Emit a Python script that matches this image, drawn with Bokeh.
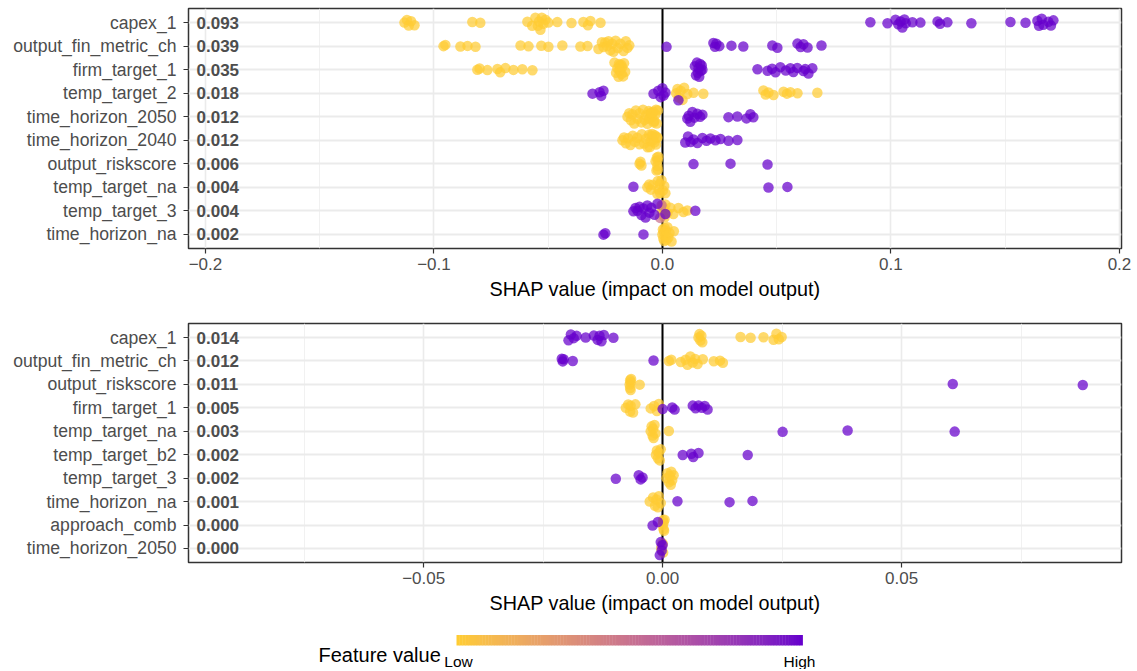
from bokeh.plotting import figure
from bokeh.models import Range1d, FixedTicker
from bokeh.layouts import column
from bokeh.core.properties import value
from bokeh.embed import file_html
from bokeh.resources import INLINE

# ---------------- data ----------------
TOP_FEATURES = ["capex_1", "output_fin_metric_ch", "firm_target_1", "temp_target_2",
                "time_horizon_2050", "time_horizon_2040", "output_riskscore",
                "temp_target_na", "temp_target_3", "time_horizon_na"]
TOP_MEAN = ["0.093", "0.039", "0.035", "0.018", "0.012", "0.012", "0.006", "0.004", "0.004", "0.002"]

BOT_FEATURES = ["capex_1", "output_fin_metric_ch", "output_riskscore", "firm_target_1",
                "temp_target_na", "temp_target_b2", "temp_target_3", "time_horizon_na",
                "approach_comb", "time_horizon_2050"]
BOT_MEAN = ["0.014", "0.012", "0.011", "0.005", "0.003", "0.002", "0.002", "0.001", "0.000", "0.000"]

# SHAP values, split by feature value: LO = low (yellow), HI = high (purple), MID = intermediate
T_CAPEX_LO = [-0.1129, -0.1118, -0.1110, -0.1100, -0.1085, -0.0832, -0.0797, -0.0591, -0.0570,
              -0.0556, -0.0545, -0.0540, -0.0534, -0.0528, -0.0521, -0.0512, -0.0499, -0.0460,
              -0.0398, -0.0346, -0.0326, -0.0315, -0.0271]
T_CAPEX_HI = [0.0910, 0.0985, 0.1020, 0.1032, 0.1042, 0.1050, 0.1059, 0.1065, 0.1094, 0.1129,
              0.1204, 0.1215, 0.1247, 0.1352, 0.1523, 0.1589, 0.1641, 0.1648, 0.1660, 0.1667,
              0.1689, 0.1700, 0.1711]
T_FIN_LO = [-0.0958, -0.0950, -0.0884, -0.0853, -0.0818, -0.0621, -0.0586, -0.0530, -0.0499,
            -0.0438, -0.0359, -0.0328, -0.0280, -0.0265, -0.0258, -0.0250, -0.0242, -0.0236,
            -0.0228, -0.0220, -0.0214, -0.0205, -0.0195, -0.0184, -0.0170, -0.0160, -0.0153, -0.0145]
T_FIN_HI = [0.0018, 0.0223, 0.0230, 0.0236, 0.0249, 0.0302, 0.0354, 0.0481, 0.0503, 0.0591,
            0.0605, 0.0617, 0.0635, 0.0696]
T_FIRM_LO = [-0.0810, -0.0800, -0.0766, -0.0722, -0.0710, -0.0687, -0.0652, -0.0613, -0.0569,
             -0.0210, -0.0203, -0.0197, -0.0192, -0.0190, -0.0188, -0.0186, -0.0184, -0.0180,
             -0.0178, -0.0176, -0.0172, -0.0168, -0.0163]
T_FIRM_HI = [0.0142, 0.0147, 0.0151, 0.0155, 0.0158, 0.0161, 0.0165, 0.0168, 0.0172, 0.0175,
             0.0416, 0.0460, 0.0480, 0.0495, 0.0516, 0.0540, 0.0560, 0.0573, 0.0590, 0.0617,
             0.0625, 0.0639, 0.0656]
T_TT2_LO = [0.0060, 0.0066, 0.0072, 0.0080, 0.0088, 0.0095, 0.0109, 0.0136, 0.0179, 0.0442,
            0.0452, 0.0464, 0.0486, 0.0530, 0.0545, 0.0560, 0.0591, 0.0678]
T_TT2_HI = [-0.0306, -0.0275, -0.0268, -0.0258, -0.0039, -0.0018, -0.0008, 0.0000, 0.0005,
            0.0013, 0.0070]
T_TH50_LO = [-0.0153, -0.0145, -0.0138, -0.0131, -0.0123, -0.0116, -0.0109, -0.0100, -0.0092,
             -0.0085, -0.0078, -0.0072, -0.0066, -0.0060, -0.0055, -0.0050, -0.0045, -0.0040,
             -0.0035, -0.0030, -0.0025, -0.0020, -0.0058, -0.0048, -0.0038, -0.0028]
T_TH50_HI = [0.0109, 0.0115, 0.0122, 0.0131, 0.0140, 0.0153, 0.0165, 0.0175, 0.0289, 0.0328,
             0.0368, 0.0385, 0.0398]
T_TH40_LO = [-0.0175, -0.0168, -0.0160, -0.0150, -0.0140, -0.0130, -0.0120, -0.0110, -0.0100,
             -0.0090, -0.0080, -0.0072, -0.0065, -0.0058, -0.0052, -0.0046, -0.0040, -0.0034,
             -0.0028, -0.0022, -0.0055, -0.0045, -0.0035, -0.0025]
T_TH40_HI = [0.0100, 0.0112, 0.0123, 0.0136, 0.0153, 0.0175, 0.0193, 0.0210, 0.0232, 0.0254,
             0.0289, 0.0328]
T_RISK_LO = [-0.0100, -0.0096, -0.0092, -0.0030, -0.0026, -0.0024, -0.0022, -0.0021, -0.0020,
             -0.0018]
T_RISK_HI = [0.0136, 0.0298, 0.0460]
T_TTNA_LO = [-0.0066, -0.0058, -0.0050, -0.0042, -0.0022, -0.0020, -0.0016, -0.0012, -0.0010,
             -0.0004, 0.0002, 0.0008, 0.0013]
T_TTNA_HI = [-0.0127, 0.0464, 0.0547]
T_TT3_LO = [-0.0002, 0.0000, 0.0004, 0.0006, 0.0009, 0.0013, 0.0022, 0.0035, 0.0048, 0.0070,
            0.0092, 0.0109]
T_TT3_MID = [-0.0010, -0.0004]
T_TT3_HI = [-0.0127, -0.0118, -0.0109, -0.0100, -0.0092, -0.0083, -0.0074, -0.0066, -0.0057,
            -0.0048, -0.0035, -0.0022, 0.0013, 0.0144]
T_THNA_LO = [0.0000, 0.0002, 0.0004, 0.0006, 0.0008, 0.0010, 0.0013, 0.0015, 0.0018, 0.0022,
             0.0026, 0.0031, 0.0040, 0.0050]
T_THNA_HI = [-0.0258, -0.0250, -0.0083]

B_CAPEX_LO = [0.0075, 0.0077, 0.0079, 0.0081, 0.0083, 0.0163, 0.0184, 0.0211, 0.0232, 0.0238,
              0.0243, 0.0249]
B_CAPEX_HI = [-0.0197, -0.0192, -0.0186, -0.0180, -0.0161, -0.0144, -0.0136, -0.0132, -0.0128,
              -0.0123, -0.0103]
B_FIN_LO = [0.0013, 0.0018, 0.0038, 0.0048, 0.0052, 0.0058, 0.0063, 0.0068, 0.0073, 0.0084,
            0.0107, 0.0120, 0.0126]
B_FIN_HI = [-0.0211, -0.0209, -0.0207, -0.0188, -0.0019]
B_RISK_LO = [-0.0069, -0.0068, -0.0068, -0.0067, -0.0067, -0.0066, -0.0048]
B_RISK_HI = [0.0607, 0.0879]
B_FIRM_LO = [-0.0077, -0.0072, -0.0068, -0.0067, -0.0062, -0.0057, -0.0025, -0.0018, -0.0012,
             -0.0008]
B_FIRM_HI = [0.0000, 0.0020, 0.0025, 0.0063, 0.0069, 0.0075, 0.0082, 0.0088, 0.0094]
B_TTNA_LO = [-0.0025, -0.0023, -0.0021, -0.0020, -0.0019, -0.0017, -0.0015, 0.0013]
B_TTNA_HI = [0.0251, 0.0387, 0.0611]
B_TTB2_LO = [-0.0014, -0.0012, -0.0010, -0.0008, -0.0006, -0.0004]
B_TTB2_HI = [0.0042, 0.0060, 0.0064, 0.0075, 0.0178]
B_TT3_LO = [0.0008, 0.0010, 0.0013, 0.0015, 0.0017, 0.0018, 0.0020, 0.0023]
B_TT3_HI = [-0.0098, -0.0050, -0.0046, -0.0042]
B_THNA_LO = [-0.0027, -0.0020, -0.0016, -0.0013, -0.0010, -0.0008, -0.0004]
B_THNA_HI = [0.0031, 0.0140, 0.0188]
B_APP_LO = [0.0000, 0.0001, 0.0002, 0.0002, 0.0003, 0.0004]
B_APP_HI = [-0.0021, -0.0010]
B_TH50_LO = [-0.0003, 0.0000, 0.0001]
B_TH50_MID = [-0.0002]
B_TH50_HI = [-0.0006, -0.0004, -0.0002, 0.0000]

TOP_ROWS = [(T_CAPEX_LO, [], T_CAPEX_HI), (T_FIN_LO, [], T_FIN_HI), (T_FIRM_LO, [], T_FIRM_HI),
            (T_TT2_LO, [], T_TT2_HI), (T_TH50_LO, [], T_TH50_HI), (T_TH40_LO, [], T_TH40_HI),
            (T_RISK_LO, [], T_RISK_HI), (T_TTNA_LO, [], T_TTNA_HI), (T_TT3_LO, T_TT3_MID, T_TT3_HI),
            (T_THNA_LO, [], T_THNA_HI)]
BOT_ROWS = [(B_CAPEX_LO, [], B_CAPEX_HI), (B_FIN_LO, [], B_FIN_HI), (B_RISK_LO, [], B_RISK_HI),
            (B_FIRM_LO, [], B_FIRM_HI), (B_TTNA_LO, [], B_TTNA_HI), (B_TTB2_LO, [], B_TTB2_HI),
            (B_TT3_LO, [], B_TT3_HI), (B_THNA_LO, [], B_THNA_HI), (B_APP_LO, [], B_APP_HI),
            (B_TH50_LO, B_TH50_MID, B_TH50_HI)]

TOP_TICKS = [-0.2, -0.1, 0.0, 0.1, 0.2]
TOP_TICK_LABELS = ["\u22120.2", "\u22120.1", "0.0", "0.1", "0.2"]
BOT_TICKS = [-0.05, 0.0, 0.05]
BOT_TICK_LABELS = ["\u22120.05", "0.00", "0.05"]

# ---------------- style ----------------
LOW_COL = "#FFCC33"
HIGH_COL = "#6600CC"
FONT = "Liberation Sans"
PATTERN = [0.0, 0.7, -0.6, 0.35, -0.95, 0.9, -0.3, 0.5, -0.8, 1.0, -0.45, 0.2, -1.0, 0.8, -0.15, 0.6]
FIG_W, LB, RB = 1133, 188, 12


def _hex(h):
    h = h.lstrip("#")
    return [int(h[i:i + 2], 16) for i in (0, 2, 4)]


def _lin(c):
    c = c / 255.0
    return c / 12.92 if c <= 0.04045 else ((c + 0.055) / 1.055) ** 2.4


def _delin(c):
    c = 12.92 * c if c <= 0.0031308 else 1.055 * c ** (1 / 2.4) - 0.055
    return max(0, min(255, round(c * 255)))


WN = (0.95047, 1.0, 1.08883)


def _f(t):
    d = 6 / 29
    return t ** (1 / 3) if t > d ** 3 else t / (3 * d * d) + 4 / 29


def _finv(t):
    d = 6 / 29
    return t ** 3 if t > d else 3 * d * d * (t - 4 / 29)


def to_lab(h):
    r, g, b = [_lin(c) for c in _hex(h)]
    X = 0.4124564 * r + 0.3575761 * g + 0.1804375 * b
    Y = 0.2126729 * r + 0.7151522 * g + 0.0721750 * b
    Z = 0.0193339 * r + 0.1191920 * g + 0.9503041 * b
    fx, fy, fz = _f(X / WN[0]), _f(Y / WN[1]), _f(Z / WN[2])
    return (116 * fy - 16, 500 * (fx - fy), 200 * (fy - fz))


def from_lab(L, a, b):
    fy = (L + 16) / 116
    fx = fy + a / 500
    fz = fy - b / 200
    X, Y, Z = WN[0] * _finv(fx), WN[1] * _finv(fy), WN[2] * _finv(fz)
    r = 3.2404542 * X - 1.5371385 * Y - 0.4985314 * Z
    g = -0.9692660 * X + 1.8760108 * Y + 0.0415560 * Z
    bb = 0.0556434 * X - 0.2040259 * Y + 1.0572252 * Z
    return "#%02x%02x%02x" % (_delin(r), _delin(g), _delin(bb))


LAB_LO, LAB_HI = to_lab(LOW_COL), to_lab(HIGH_COL)


def ramp(t):
    return from_lab(*[lo + (hi - lo) * t for lo, hi in zip(LAB_LO, LAB_HI)])


def build_panel(features, means, rows, xr, ticks, tick_labels, minor, height, top_border, bottom_border):
    p = figure(width=FIG_W, height=height, output_backend="svg", toolbar_location=None,
               x_range=Range1d(*xr), y_range=Range1d(0.4, 10.6),
               min_border_left=LB, min_border_right=RB, min_border_top=top_border,
               min_border_bottom=bottom_border)
    ppu = (FIG_W - LB - RB) / (xr[1] - xr[0])
    n = len(features)
    ypos = [n - i for i in range(n)]
    p.background_fill_color = "white"
    p.border_fill_color = "white"
    p.outline_line_color = "#333333"
    p.outline_line_width = 1.5

    # axes
    p.xaxis.ticker = FixedTicker(ticks=ticks, minor_ticks=minor)
    p.xaxis.major_label_overrides = {t: l for t, l in zip(ticks, tick_labels)}
    p.yaxis.ticker = FixedTicker(ticks=ypos)
    p.yaxis.major_label_overrides = {y: f for y, f in zip(ypos, features)}
    for ax in (p.xaxis[0], p.yaxis[0]):
        ax.axis_line_color = None
        ax.major_tick_in = 0
        ax.major_tick_out = 5
        ax.minor_tick_out = 0
        ax.minor_tick_in = 0
        ax.major_tick_line_color = "#333333"
        ax.major_tick_line_width = 1.2
        ax.major_label_text_font = FONT
        ax.major_label_text_color = "#4D4D4D"
    p.xaxis.major_label_text_font_size = "17px"
    p.yaxis.major_label_text_font_size = "17.6px"
    p.yaxis.major_label_standoff = 7
    p.xaxis.major_label_standoff = 4
    p.xaxis.axis_label = "SHAP value (impact on model output)"
    p.xaxis.axis_label_text_font = FONT
    p.xaxis.axis_label_text_font_size = "19.8px"
    p.xaxis.axis_label_text_font_style = "normal"
    p.xaxis.axis_label_text_color = "#000000"
    p.xaxis.axis_label_standoff = 5

    # grids
    p.xgrid.grid_line_color = "#EBEBEB"
    p.xgrid.grid_line_width = 1.6
    p.xgrid.minor_grid_line_color = "#EFEFEF"
    p.xgrid.minor_grid_line_width = 0.9
    p.ygrid.grid_line_color = "#EBEBEB"
    p.ygrid.grid_line_width = 2.2

    # zero line
    p.vspan(x=[0], line_color="black", line_width=2)

    # points
    xs, ys, cols = [], [], []
    for (lo, mid, hi), yc in zip(rows, ypos):
        pts = [(x, 0.0) for x in lo] + [(x, 0.5) for x in mid] + [(x, 1.0) for x in hi]
        allx = [q[0] for q in pts]
        for i, (x, fv) in enumerate(pts):
            nb = sum(1 for x2 in allx if abs(x2 - x) * ppu < 6) - 1
            amp = min(0.3, 0.03 + 0.045 * nb)
            xs.append(x)
            ys.append(yc + amp * PATTERN[i % len(PATTERN)])
            cols.append(ramp(fv))
    p.scatter(x=xs, y=ys, size=10.5, fill_color=cols, fill_alpha=0.72, line_color=None)

    # mean |SHAP| labels
    lx = xr[0] + 8 / ppu
    p.text(x=[lx] * n, y=ypos, text=means, text_font=value(FONT), text_font_style="bold",
           text_font_size="17px", text_align="left", text_baseline="middle", text_color="#4D4D4D")
    return p


P1_H, P2_H, P3_H = 314, 303, 52
p1 = build_panel(TOP_FEATURES, TOP_MEAN, TOP_ROWS, (-0.2074, 0.2009), TOP_TICKS, TOP_TICK_LABELS,
                 [-0.15, -0.05, 0.05, 0.15], P1_H, 8, 66)
p2 = build_panel(BOT_FEATURES, BOT_MEAN, BOT_ROWS, (-0.0992, 0.0960), BOT_TICKS, BOT_TICK_LABELS,
                 [-0.075, -0.025, 0.025, 0.075], P2_H, 9, 55)

# colour bar legend (coordinates in page pixels; frame spans x LB..FIG_W-RB)
y0 = P1_H + P2_H
p3 = figure(width=FIG_W, height=P3_H, output_backend="svg", toolbar_location=None,
            x_range=Range1d(LB, FIG_W - RB), y_range=Range1d(y0 + P3_H, y0),
            x_axis_type=None, y_axis_type=None, min_border_left=LB, min_border_right=RB,
            min_border_top=0, min_border_bottom=0)
p3.outline_line_color = None
p3.background_fill_color = "white"
p3.border_fill_color = "white"
p3.grid.visible = False
NSEG = 120
BAR_L, BAR_R, BAR_T, BAR_B = 456, 802, 634.5, 645
segw = (BAR_R - BAR_L) / NSEG
p3.quad(left=[BAR_L + i * segw for i in range(NSEG)],
        right=[BAR_L + (i + 1) * segw + 0.4 for i in range(NSEG)],
        top=[BAR_T] * NSEG, bottom=[BAR_B] * NSEG,
        fill_color=[ramp(i / (NSEG - 1)) for i in range(NSEG)], line_color=None)
p3.text(x=[318], y=[654], text=["Feature value"], text_font=value(FONT), text_font_size="20px",
        text_align="left", text_baseline="middle", text_color="#000000")
p3.text(x=[BAR_L + 2, BAR_R - 3], y=[661, 661], text=["Low", "High"], text_font=value(FONT),
        text_font_size="15.5px", text_align="center", text_baseline="middle", text_color="#000000")

layout = column(p1, p2, p3, spacing=0)
open("out.html", "w").write(file_html(layout, INLINE))
